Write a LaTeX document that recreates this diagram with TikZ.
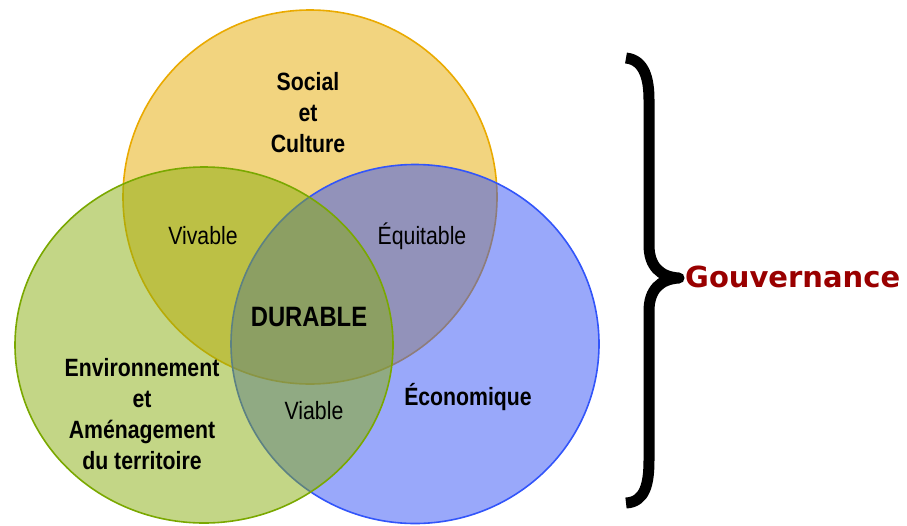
\documentclass[tikz,border=0pt]{standalone}
\usepackage{fontspec}
\setmainfont{Liberation Sans}
\newfontfamily\narrowfam[FakeStretch=0.85]{Liberation Sans}
\newfontfamily\govfam{DejaVu Sans}
\definecolor{scol}{RGB}{229,169,0}
\definecolor{sline}{RGB}{234,170,0}
\definecolor{bcol}{RGB}{51,81,245}
\definecolor{bline}{RGB}{50,85,250}
\definecolor{gcol}{RGB}{135,173,13}
\definecolor{gline}{RGB}{122,168,0}
\definecolor{govred}{RGB}{153,0,0}
\begin{document}
\begin{tikzpicture}[x=1pt,y=-1pt,
  ring/.style={line width=1.6pt, fill opacity=0.5},
  boldlbl/.style={font=\narrowfam\bfseries\fontsize{25}{31}\selectfont, align=center, inner sep=0pt},
  biglbl/.style={font=\narrowfam\bfseries\fontsize{28}{33}\selectfont, inner sep=0pt},
  reglbl/.style={font=\narrowfam\fontsize{25}{31}\selectfont, inner sep=0pt},
  govlbl/.style={font=\govfam\bfseries\fontsize{29}{35}\selectfont, text=govred, inner sep=0pt, anchor=west},
  bracestyle/.style={line width=11pt, line cap=butt, line join=round}]
\useasboundingbox (0,0) rectangle (907,525);
\begin{scope}
  \clip (0,0) rectangle (907,525);
  \filldraw[ring, fill=scol, draw=sline] (310,197) circle (187pt);
  \filldraw[ring, fill=bcol, draw=bline] (415,344) ellipse [x radius=184pt, y radius=179.5pt];
  \filldraw[ring, fill=gcol, draw=gline] (204,345) ellipse [x radius=189pt, y radius=178pt];
\end{scope}
\node[boldlbl] (social) at (308,113) {Social\\et\\Culture};
\node[boldlbl] (env) at (142,414) {Environnement\\et\\Aménagement\\du territoire};
\node[boldlbl] (eco) at (468,397) {Économique};
\node[biglbl] (durable) at (309,317) {DURABLE};
\node[reglbl] (vivable) at (203,236) {Vivable};
\node[reglbl] (equitable) at (422,236) {Équitable};
\node[reglbl] (viable) at (314,411) {Viable};
\draw[bracestyle] (626,58) .. controls (645,60) and (649,80) .. (649,100)
  -- (649,245) .. controls (649,266) and (660,277) .. (679,278)
  .. controls (660,279) and (649,290) .. (649,311)
  -- (649,460) .. controls (649,484) and (645,502) .. (626,503);
\node[govlbl] (gouv) at (685,277) {Gouvernance};
\end{tikzpicture}
\end{document}
